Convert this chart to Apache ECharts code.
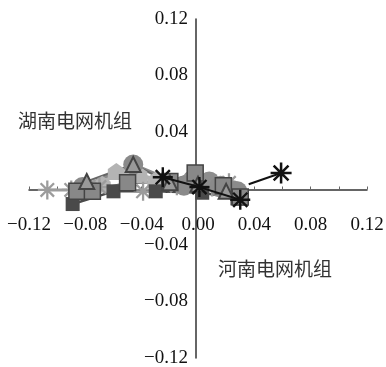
<!DOCTYPE html>
<html>
<head>
<meta charset="utf-8">
<script src="https://cdn.jsdelivr.net/npm/echarts@6/dist/echarts.min.js"></script>
<style>html,body{margin:0;padding:0;background:#fff}#c{width:386px;height:367px}</style>
</head>
<body>
<div id="c"></div>
<script>
// Tick values (both axes)
var xTicks = [-0.12, -0.08, -0.04, 0.00, 0.04, 0.08, 0.12];
var yTicks = [-0.12, -0.08, -0.04, 0.00, 0.04, 0.08, 0.12];
var xName = '河南电网机组';
var yName = '湖南电网机组';

// Series values [x, y]
var seriesA = [[-0.107, -0.001], [-0.090, -0.001], [-0.070, 0.001], [-0.039, -0.002], [-0.015, 0.002], [0.010, 0.001], [0.022, 0.004]];
var seriesB = [[-0.086, -0.002], [-0.075, -0.002], [-0.050, 0.004], [-0.020, 0.005], [-0.002, 0.011], [0.018, 0.002], [0.030, -0.006]];
var seriesD = [[-0.079, 0.005], [-0.046, 0.017], [-0.020, 0.004], [0.000, 0.003], [0.020, -0.002]];
var seriesE = [[-0.082, 0.001], [-0.046, 0.017], [-0.010, 0.002], [0.015, 0.001], [0.028, -0.002]];
var seriesF = [[-0.068, 0.003], [-0.058, 0.012], [-0.042, 0.010], [-0.030, 0.006], [-0.005, 0.005], [0.020, 0.000]];
var seriesG = [[-0.089, -0.011], [-0.060, -0.002], [-0.030, -0.002], [0.003, -0.003], [0.028, -0.007]];
var seriesH = [[-0.004, 0.006], [0.008, 0.005], [0.016, 0.002], [0.024, -0.001]];
var seriesC = [[-0.025, 0.008], [0.001, 0.001], [0.030, -0.008]];
var seriesC2 = [[0.036, 0.003], [0.059, 0.011]];

var ast = 'path://M0 8.8L20 8.8L20 11.2L0 11.2Z M8.8 0L11.2 0L11.2 20L8.8 20Z M3.78 2.08L17.92 16.22L16.22 17.92L2.08 3.78Z M2.08 16.22L16.22 2.08L17.92 3.78L3.78 17.92Z';
var house = 'path://M10 0L20 7L20 20L0 20L0 7Z';
var serif = 'serif';

function fmt(v) {
  var s = Math.abs(v) < 1e-9 ? '0.00' : v.toFixed(2);
  return s.replace('-', '\u2212');
}

function line(data, color, symbol, size, width, extra) {
  var s = {
    type: 'line', data: data, symbol: symbol, symbolSize: size,
    lineStyle: {color: color, width: width},
    itemStyle: {color: color},
    animation: false, z: 2
  };
  if (extra) for (var k in extra) s[k] = extra[k];
  return s;
}

var W = 386, H = 367;
var gl = 29, gr = 19, gt = 19, gb = 9;
var gw = W - gl - gr, gh = H - gt - gb;

var chart = echarts.init(document.getElementById('c'));
chart.setOption({
  animation: false,
  grid: {left: gl, right: gr, top: gt, bottom: gb, containLabel: false, outerBoundsMode: 'none'},
  xAxis: {
    type: 'value', min: xTicks[0], max: xTicks[xTicks.length - 1], interval: 0.04,
    position: 'bottom', offset: -gh / 2 + 1,
    axisLine: {onZero: false, lineStyle: {color: '#333', width: 1.5}},
    axisTick: {show: true, inside: true, length: 3, lineStyle: {color: '#666'}},
    minorTick: {show: true, splitNumber: 2, length: 3, lineStyle: {color: '#666'}},
    splitLine: {show: false},
    axisLabel: {formatter: fmt, margin: 26, color: '#111', fontFamily: serif, fontSize: 19}
  },
  yAxis: {
    type: 'value', min: yTicks[0], max: yTicks[yTicks.length - 1], interval: 0.04,
    position: 'left', offset: -gw / 2 + 2,
    axisLine: {onZero: false, lineStyle: {color: '#333', width: 1.5}},
    axisTick: {show: false},
    splitLine: {show: false},
    axisLabel: {formatter: fmt, margin: 8, color: '#111', fontFamily: serif, fontSize: 19}
  },
  graphic: [
    {type: 'text', left: 18, top: 111, style: {text: yName, fill: '#333', font: '19px "Noto Sans CJK SC"'}},
    {type: 'text', left: 218, top: 259, style: {text: xName, fill: '#333', font: '19px "Noto Sans CJK SC"'}}
  ],
  series: [
    line(seriesF, '#b4b4b4', house, 17, 4),
    line(seriesA, '#9c9c9c', ast, 19, 3),
    line(seriesH, '#8e8e8e', 'circle', 20, 3),
    line(seriesE, '#8a8a8a', 'circle', 20, 3),
    line(seriesG, '#4a4a4a', 'rect', 14, 2.5),
    line(seriesB, '#7a7a7a', 'rect', 16, 3, {itemStyle: {color: '#888', borderColor: '#444', borderWidth: 1.5}}),
    line(seriesD, '#666', 'triangle', 15, 2, {itemStyle: {color: '#999', borderColor: '#444', borderWidth: 2}}),
    line(seriesC, '#111', ast, 20, 2, {z: 3}),
    {
      type: 'line', z: 3, animation: false,
      data: seriesC2.map(function (p, i) { return i === 0 ? {value: p, symbol: 'none'} : {value: p}; }),
      symbol: ast, symbolSize: 21,
      lineStyle: {color: '#111', width: 2}, itemStyle: {color: '#111'}
    }
  ]
});
</script>
</body>
</html>
